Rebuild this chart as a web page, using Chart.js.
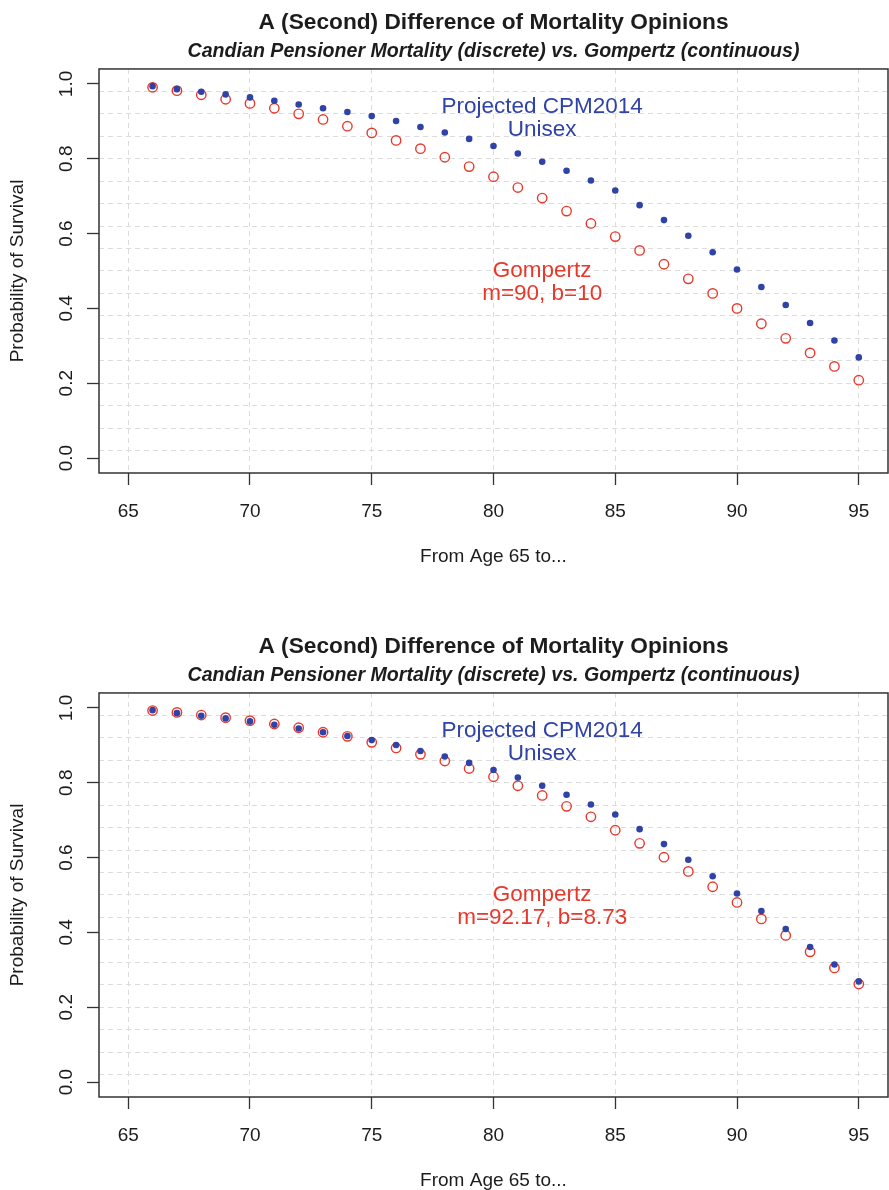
<!DOCTYPE html>
<html>
<head>
<meta charset="utf-8">
<script src="https://cdn.jsdelivr.net/npm/chart.js@4.4.1/dist/chart.umd.min.js"></script>
<style>
  body { margin: 0; background: #fff; }
  .plot { position: absolute; left: 0; }
</style>
</head>
<body>
<canvas id="topChart" class="plot" width="889" height="566" style="top:0"></canvas>
<canvas id="bottomChart" class="plot" width="889" height="566" style="top:624px"></canvas>
<script>
const ages = [66, 67, 68, 69, 70, 71, 72, 73, 74, 75, 76, 77, 78, 79, 80,
  81, 82, 83, 84, 85, 86, 87, 88, 89, 90, 91, 92, 93, 94, 95];
const cpm2014 = [0.994, 0.986, 0.979, 0.972, 0.964, 0.955, 0.945, 0.935, 0.925, 0.914,
  0.901, 0.885, 0.870, 0.853, 0.834, 0.814, 0.792, 0.768, 0.742, 0.715,
  0.676, 0.636, 0.594, 0.550, 0.504, 0.457, 0.409, 0.361, 0.314, 0.269];
const gompertz90 = [0.991, 0.982, 0.971, 0.959, 0.948, 0.935, 0.920, 0.905, 0.887, 0.869,
  0.849, 0.827, 0.804, 0.779, 0.752, 0.723, 0.695, 0.660, 0.627, 0.592,
  0.555, 0.518, 0.479, 0.440, 0.400, 0.359, 0.320, 0.281, 0.245, 0.208];
const gompertzFit = [0.993, 0.988, 0.981, 0.974, 0.966, 0.957, 0.947, 0.935, 0.924, 0.908,
  0.893, 0.876, 0.858, 0.838, 0.816, 0.792, 0.766, 0.737, 0.709, 0.673,
  0.638, 0.601, 0.563, 0.522, 0.480, 0.436, 0.392, 0.348, 0.305, 0.262];
const xTicks = [65, 70, 75, 80, 85, 90, 95];
const yTicks = [0, 0.2, 0.4, 0.6, 0.8, 1.0];
const yTickLabels = ["0.0", "0.2", "0.4", "0.6", "0.8", "1.0"];

const title = "A (Second) Difference of Mortality Opinions";
const subtitle = "Candian Pensioner Mortality (discrete) vs. Gompertz (continuous)";
const cpmNote = ["Projected CPM2014", "Unisex"];
const topGompNote = ["Gompertz", "m=90, b=10"];
const bottomGompNote = ["Gompertz", "m=92.17, b=8.73"];

const BLUE = "#2f43a6";
const RED = "#e8382c";
const INK = "#1c1c1c";
const FONT = "'Liberation Sans', Arial, Helvetica, sans-serif";

// R-like usr ranges (4% padding) and the grid(…) dashed lines
const xRange = [63.8, 96.2];
const yRange = [-0.04, 1.04];
const yGrid = [];
for (let k = 1; k < 18; k++) yGrid.push(+(yRange[0] + k * 0.06).toFixed(2));

const frameAndText = {
  id: "frameAndText",
  afterDraw(chart, args, opts) {
    const { ctx, chartArea: a, scales } = chart;
    ctx.save();
    ctx.strokeStyle = "#333";
    ctx.lineWidth = 1.5;
    ctx.strokeRect(a.left, a.top, a.right - a.left, a.bottom - a.top);

    // rotated y tick labels, as R draws them
    ctx.fillStyle = INK;
    ctx.font = `19px ${FONT}`;
    ctx.textAlign = "center";
    ctx.textBaseline = "alphabetic";
    yTicks.forEach((v, i) => {
      const py = scales.y.getPixelForValue(v);
      ctx.save();
      ctx.translate(72, py);
      ctx.rotate(-Math.PI / 2);
      ctx.fillText(yTickLabels[i], 0, 0);
      ctx.restore();
    });

    // in-plot notes
    ctx.font = `22.5px ${FONT}`;
    opts.notes.forEach(note => {
      const px = scales.x.getPixelForValue(note.x);
      const py = scales.y.getPixelForValue(note.y);
      ctx.fillStyle = note.color;
      note.lines.forEach((line, i) => {
        const cy = py + (i - (note.lines.length - 1) / 2) * 23;
        ctx.fillText(line, px, cy + 8);
      });
    });
    ctx.restore();
  }
};

function makeChart(id, redValues, gompNote) {
  return new Chart(document.getElementById(id), {
    type: "scatter",
    data: {
      datasets: [
        {
          label: "Projected CPM2014 Unisex",
          data: ages.map((a, i) => ({ x: a, y: cpm2014[i] })),
          pointStyle: "circle",
          pointRadius: 3.3,
          backgroundColor: BLUE,
          borderWidth: 0
        },
        {
          label: "Gompertz",
          data: ages.map((a, i) => ({ x: a, y: redValues[i] })),
          pointStyle: "circle",
          pointRadius: 4.7,
          backgroundColor: "rgba(0,0,0,0)",
          borderColor: RED,
          borderWidth: 1.4
        }
      ]
    },
    options: {
      responsive: false,
      animation: false,
      devicePixelRatio: 1,
      layout: { autoPadding: false, padding: { left: 0, right: 1, top: 0, bottom: 0 } },
      plugins: {
        legend: { display: false },
        tooltip: { enabled: false },
        title: {
          display: true,
          text: title,
          fullSize: false,
          color: INK,
          font: { family: FONT, size: 22.7, weight: "bold", lineHeight: 1.2 },
          padding: { top: 9, bottom: 0 }
        },
        subtitle: {
          display: true,
          text: subtitle,
          fullSize: false,
          color: INK,
          font: { family: FONT, size: 19.6, weight: "bold", style: "italic", lineHeight: 1.2 },
          padding: { top: 4, bottom: 5.2 }
        },
        frameAndText: {
          notes: [
            { x: 82, y: 0.913, lines: cpmNote, color: BLUE },
            { x: 82, y: 0.474, lines: gompNote, color: RED }
          ]
        }
      },
      scales: {
        x: {
          type: "linear",
          min: xRange[0],
          max: xRange[1],
          afterBuildTicks: s => { s.ticks = xTicks.map(v => ({ value: v })); },
          afterFit: s => { s.height = 93; s.paddingLeft = 0; s.paddingRight = 0; },
          ticks: { color: INK, font: { family: FONT, size: 19 }, padding: 15 },
          grid: {
            color: "#dcdcdc",
            lineWidth: 1,
            tickLength: 12,
            tickColor: "#333",
            tickWidth: 1.3,
            tickBorderDash: []
          },
          border: { display: false, dash: [5, 4] },
          title: {
            display: true,
            text: "From Age 65 to...",
            color: INK,
            font: { family: FONT, size: 19, lineHeight: 1 },
            padding: { top: 0, bottom: 0 }
          }
        },
        y: {
          type: "linear",
          position: "left",
          min: yRange[0],
          max: yRange[1],
          afterBuildTicks: s => { s.ticks = yTicks.map(v => ({ value: v })); },
          afterFit: s => { s.width = 99; s.paddingTop = 0; s.paddingBottom = 0; },
          ticks: { display: false },
          grid: {
            drawOnChartArea: false,
            tickLength: 12,
            tickColor: "#333",
            tickWidth: 1.3
          },
          border: { display: false },
          title: {
            display: true,
            text: "Probability of Survival",
            color: INK,
            font: { family: FONT, size: 19, lineHeight: 1 },
            padding: { top: 8, bottom: 0 }
          }
        },
        yg: {
          type: "linear",
          position: "left",
          min: yRange[0],
          max: yRange[1],
          afterBuildTicks: s => { s.ticks = yGrid.map(v => ({ value: v })); },
          afterFit: s => { s.width = 0; s.paddingTop = 0; s.paddingBottom = 0; },
          ticks: { display: false },
          grid: { color: "#dcdcdc", lineWidth: 1, drawTicks: false },
          border: { display: false, dash: [5, 4] }
        }
      }
    },
    plugins: [frameAndText]
  });
}

makeChart("topChart", gompertz90, topGompNote);
makeChart("bottomChart", gompertzFit, bottomGompNote);
</script>
</body>
</html>
